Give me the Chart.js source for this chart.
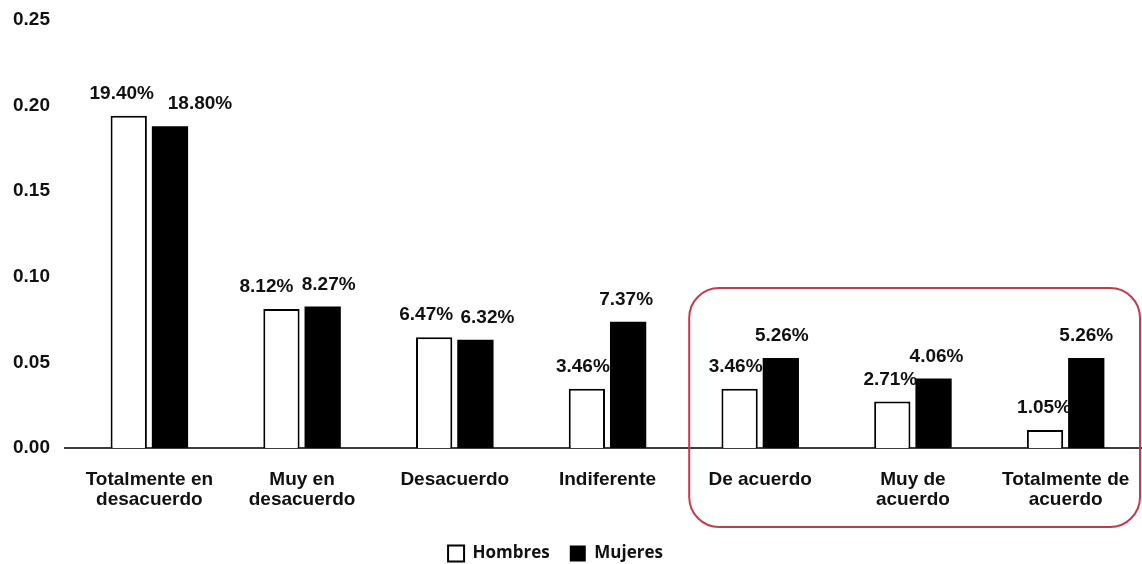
<!DOCTYPE html>
<html>
<head>
<meta charset="utf-8">
<script src="https://cdn.jsdelivr.net/npm/chart.js@4.4.1/dist/chart.umd.min.js"></script>
<style>
  html, body { margin: 0; padding: 0; background: #ffffff; }
  #wrap { width: 1142px; height: 564px; position: relative; }
</style>
</head>
<body>
<div id="wrap"><canvas id="c"></canvas></div>
<script>
const categories = [
  ["Totalmente en", "desacuerdo"],
  ["Muy en", "desacuerdo"],
  "Desacuerdo",
  "Indiferente",
  "De acuerdo",
  ["Muy de", "acuerdo"],
  ["Totalmente de", "acuerdo"]
];
const seriesNames = ["Hombres", "Mujeres"];
const hombres = [0.194, 0.0812, 0.0647, 0.0346, 0.0346, 0.0271, 0.0105];
const mujeres = [0.188, 0.0827, 0.0632, 0.0737, 0.0526, 0.0406, 0.0526];
const yTicks = [0, 0.05, 0.10, 0.15, 0.20, 0.25];

// label nudges (style only)
const labelNudge = [
  [-7, -15, -8, -4, -4, -2, -1],
  [30, 6, 12, -2, 1, 3, 0]
];

const FONT = "'Liberation Sans', Arial, sans-serif";

const decorPlugin = {
  id: 'decor',
  afterLayout(chart) {
    const l = chart.legend;
    if (l) { l.left -= 22; l.right -= 22; }
  },
  beforeDatasetsDraw(chart) {
    const ctx = chart.ctx;
    const y0 = chart.scales.y.getPixelForValue(0);
    ctx.save();
    ctx.strokeStyle = '#3c3c3c';
    ctx.lineWidth = 2;
    ctx.beginPath();
    ctx.moveTo(64, y0);
    ctx.lineTo(chart.width, y0);
    ctx.stroke();
    ctx.restore();
  },
  afterDatasetsDraw(chart) {
    const ctx = chart.ctx;
    ctx.save();
    ctx.font = "bold 19px " + FONT;
    ctx.fillStyle = '#111';
    ctx.textAlign = 'center';
    ctx.textBaseline = 'middle';
    chart.data.datasets.forEach((ds, di) => {
      const meta = chart.getDatasetMeta(di);
      meta.data.forEach((el, i) => {
        const v = ds.data[i];
        ctx.fillText((v * 100).toFixed(2) + '%', el.x + labelNudge[di][i], el.y - 22);
      });
    });
    // highlight box around the "agree" categories
    const xs = chart.scales.x;
    const left = xs.getPixelForValue(4) - 71;
    const right = chart.width - 2;
    const top = 288, bottom = 527;
    ctx.strokeStyle = '#c23a4c';
    ctx.lineWidth = 2;
    ctx.beginPath();
    ctx.roundRect(left, top, right - left, bottom - top, 30);
    ctx.stroke();
    ctx.restore();
  }
};

new Chart(document.getElementById('c'), {
  type: 'bar',
  data: {
    labels: categories,
    datasets: [
      {
        label: seriesNames[0],
        data: hombres,
        backgroundColor: '#ffffff',
        borderColor: '#000000',
        borderWidth: 2,
        categoryPercentage: 0.54,
        barPercentage: 0.88
      },
      {
        label: seriesNames[1],
        data: mujeres,
        backgroundColor: '#000000',
        borderColor: '#000000',
        borderWidth: 0,
        categoryPercentage: 0.54,
        barPercentage: 0.88
      }
    ]
  },
  options: {
    responsive: true,
    maintainAspectRatio: false,
    animation: false,
    layout: { padding: { left: 13, right: 0, top: 20, bottom: -8 } },
    scales: {
      x: {
        grid: { display: false, drawTicks: false },
        border: { display: false },
        ticks: {
          color: '#111',
          font: { family: FONT, size: 19, weight: 'bold', lineHeight: 1.05 },
          padding: 22,
          maxRotation: 0,
          autoSkip: false
        },
        afterFit(scale) {
          scale.height = 77;
          scale.paddingLeft = 0;
          scale.paddingRight = 0;
        }
      },
      y: {
        min: 0,
        max: 0.25,
        grid: { display: false, drawTicks: false },
        border: { display: false },
        afterBuildTicks(scale) { scale.ticks = yTicks.map(v => ({ value: v })); },
        afterFit(scale) { scale.width = 60; },
        ticks: {
          color: '#111',
          crossAlign: 'far',
          font: { family: FONT, size: 19, weight: 'bold' },
          callback: (v) => Number(v).toFixed(2)
        }
      }
    },
    plugins: {
      legend: {
        position: 'bottom',
        labels: {
          color: '#111',
          boxWidth: 16,
          boxHeight: 16,
          padding: 20,
          font: { family: "'Open Sans', sans-serif", size: 17, weight: 'bold' }
        }
      },
      tooltip: { enabled: false }
    }
  },
  plugins: [decorPlugin]
});
</script>
</body>
</html>
